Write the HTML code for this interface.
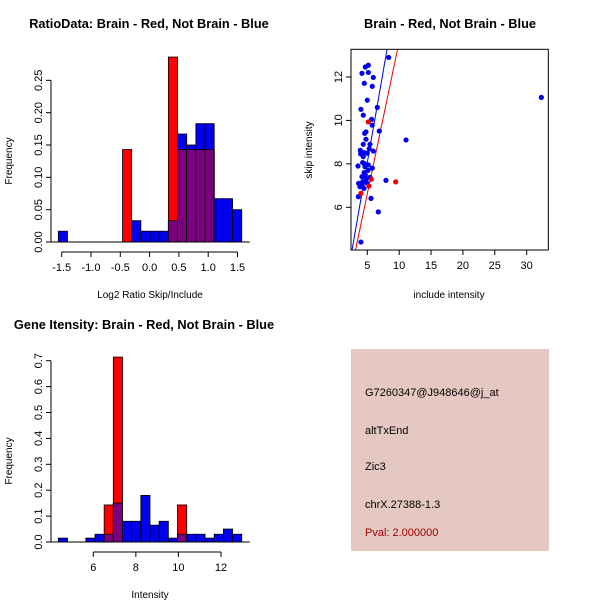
<!DOCTYPE html>
<html><head><meta charset="utf-8"><style>
body{margin:0;background:#fff}
svg{display:block;font-family:"Liberation Sans",Arial,sans-serif}
</style></head><body>
<svg id="c" width="600" height="600" viewBox="0 0 600 600">
<rect width="600" height="600" fill="#fff"/>
<g id="p1"></g>
<g id="p2"></g>
<g id="p3"></g>
<g id="p4">
<rect x="351" y="349" width="198" height="202" fill="#e6c8c2"/>
<text x="365" y="396" font-size="11" fill="#000">G7260347@J948646@j_at</text>
<text x="365" y="434" font-size="11" fill="#000">altTxEnd</text>
<text x="365" y="470" font-size="11" fill="#000">Zic3</text>
<text x="365" y="508" font-size="11" fill="#000">chrX.27388-1.3</text>
<text x="365" y="536" font-size="11" fill="#a00000">Pval: 2.000000</text>
</g>
</svg>
<script>
// ---- data ----
const ratioBinStart = -1.558, ratioBinWidth = 0.1565;
const ratioBlue = [0.0167,0,0,0,0,0,0,0,0.033,0.0167,0.0167,0.0167,0.033,0.167,0.15,0.183,0.183,0.067,0.067,0.05];
const ratioRed  = [0,0,0,0,0,0,0,0.143,0,0,0,0,0.286,0.143,0.143,0.143,0.143,0,0,0];
const ratioXTicks = [-1.5,-1.0,-0.5,0.0,0.5,1.0,1.5];
const ratioXLabels = ["-1.5","-1.0","-0.5","0.0","0.5","1.0","1.5"];
const ratioYTicks = [0,0.05,0.10,0.15,0.20,0.25];
const ratioYLabels = ["0.00","0.05","0.10","0.15","0.20","0.25"];

const scatterBlueX = [8.35,5.16,4.69,5.16,4.16,5.94,4.53,5.78,5.0,6.57,4.0,4.37,5.68,5.78,6.88,4.58,4.79,11.07,4.79,4.37,5.42,5.0,3.9,3.95,4.53,5.94,4.37,4.27,3.54,4.63,5.78,5.16,7.93,4.16,4.69,5.42,3.64,4.27,4.9,3.85,4.48,3.59,5.58,6.73,4.0,32.3,4.5,5.1,4.8,4.2,5.3,4.6];
const scatterBlueY = [12.9,12.54,12.46,12.21,12.17,11.98,11.71,11.57,10.93,10.6,10.51,10.24,10.05,9.78,9.51,9.41,9.47,9.10,9.13,8.9,8.9,8.49,8.62,8.46,8.52,8.59,8.33,8.06,7.9,7.87,7.8,7.95,7.24,7.41,7.49,7.38,7.1,7.18,7.13,6.95,6.87,6.49,6.41,5.79,4.4,11.06,7.6,7.7,7.3,7.0,8.7,8.0];
const scatterRedX = [5.16,9.45,5.63,5.26,4.0];
const scatterRedY = [9.93,7.17,7.29,6.98,6.64];
const blueLine = [[2.6,4.03],[8.1,13.28]];
const redLine = [[3.15,4.03],[9.75,13.28]];
const scatXTicks = [5,10,15,20,25,30];
const scatYTicks = [6,8,10,12];

const geneBinStart = 4.355, geneBinWidth = 0.431;
const geneBlue = [0.015,0,0,0.015,0.03,0.03,0.15,0.08,0.08,0.18,0.065,0.08,0.015,0.03,0.03,0.03,0.015,0.03,0.05,0.03];
const geneRed  = [0,0,0,0,0,0.143,0.714,0,0,0,0,0,0,0.143,0,0,0,0,0,0];
const geneXTicks = [6,8,10,12];
const geneYTicks = [0,0.1,0.2,0.3,0.4,0.5,0.6,0.7];
const geneYLabels = ["0.0","0.1","0.2","0.3","0.4","0.5","0.6","0.7"];

const NS="http://www.w3.org/2000/svg";
function mk(parent,tag,attrs,text){const e=document.createElementNS(NS,tag);for(const k in attrs)e.setAttribute(k,attrs[k]);if(text!==undefined)e.textContent=text;parent.appendChild(e);return e;}
function txt(g,x,y,s,opt){opt=opt||{};const a={x:x,y:y,"font-size":opt.size||11,"text-anchor":opt.anchor||"middle",fill:"#000"};if(opt.bold)a["font-weight"]="bold";if(opt.rot)a.transform="rotate(-90 "+x+" "+y+")";return mk(g,"text",a,s);}

function hist(g,binStart,bw,blue,red,sx,sy,name){
  const n=blue.length;
  for(let i=0;i<n;i++){
    const x0=sx(binStart+i*bw),x1=sx(binStart+(i+1)*bw);
    const b=blue[i],r=red[i],m=Math.min(b,r);
    if(b>0){const e=mk(g,"rect",{x:x0,y:sy(b),width:x1-x0,height:sy(0)-sy(b),fill:"#0000ee",stroke:"#000","stroke-width":0.8});
      
      }
    if(r>0){const e=mk(g,"rect",{x:x0,y:sy(r),width:x1-x0,height:sy(0)-sy(r),fill:"#ff0000",stroke:"#000","stroke-width":0.8});
      
      }
    if(m>0){const e=mk(g,"rect",{x:x0,y:sy(m),width:x1-x0,height:sy(0)-sy(m),fill:"#7a0080",stroke:"#000","stroke-width":0.8});
      
      }
  }
  mk(g,"line",{x1:sx(binStart)-10,x2:sx(binStart+n*bw)+8,y1:sy(0),y2:sy(0),stroke:"#000"});
}
function yaxis(g,ticks,labels,sy,x){
  mk(g,"line",{x1:x,x2:x,y1:sy(ticks[0]),y2:sy(ticks[ticks.length-1]),stroke:"#000"});
  ticks.forEach((t,i)=>{mk(g,"line",{x1:x-5,x2:x,y1:sy(t),y2:sy(t),stroke:"#000"});
    const e=txt(g,x-9,sy(t),labels[i],{rot:true});
    
    });
}
function xaxis(g,ticks,labels,sx,y){
  mk(g,"line",{x1:sx(ticks[0]),x2:sx(ticks[ticks.length-1]),y1:y,y2:y,stroke:"#000"});
  ticks.forEach((t,i)=>{mk(g,"line",{x1:sx(t),x2:sx(t),y1:y,y2:y+5,stroke:"#000"});
    const e=txt(g,sx(t),y+19,labels[i]);
    
    });
}

// Plot 1
(function(){
  const g=document.getElementById("p1");
  const sx=v=>61.7+(v+1.5)*58.6, sy=v=>242-v*646.7;
  hist(g,ratioBinStart,ratioBinWidth,ratioBlue,ratioRed,sx,sy,'ratio');
  yaxis(g,ratioYTicks,ratioYLabels,sy,51);
  xaxis(g,ratioXTicks,ratioXLabels,sx,252);
  let e=txt(g,149,28,"RatioData: Brain - Red, Not Brain - Blue",{bold:true,size:12.8});
  
  e=txt(g,150,298,"Log2 Ratio Skip/Include",{size:10});
  
  e=txt(g,12,161,"Frequency",{size:10,rot:true});
  
})();

// Plot 2
(function(){
  const g=document.getElementById("p2");
  const sx=v=>367.3+(v-5)*6.375, sy=v=>207.3-(v-6)*21.72;
  const clip=mk(g,"clipPath",{id:"clip2"});mk(clip,"rect",{x:351,y:49.3,width:197.3,height:200.7});
  const inner=mk(g,"g",{"clip-path":"url(#clip2)"});
  let e=mk(inner,"line",{x1:sx(blueLine[0][0]),y1:sy(blueLine[0][1]),x2:sx(blueLine[1][0]),y2:sy(blueLine[1][1]),stroke:"#0000ee","stroke-width":1});
  
  e=mk(inner,"line",{x1:sx(redLine[0][0]),y1:sy(redLine[0][1]),x2:sx(redLine[1][0]),y2:sy(redLine[1][1]),stroke:"#ee0000","stroke-width":1});
  
  scatterBlueX.forEach((x,i)=>{const p=mk(inner,"circle",{cx:sx(x),cy:sy(scatterBlueY[i]),r:2.6,fill:"#0000ee"});
    
    });
  scatterRedX.forEach((x,i)=>{const p=mk(inner,"circle",{cx:sx(x),cy:sy(scatterRedY[i]),r:2.6,fill:"#ee0000"});
    
    });
  mk(g,"rect",{x:351,y:49.3,width:197.3,height:200.7,fill:"none",stroke:"#000"});
  xaxis(g,scatXTicks,scatXTicks.map(String),sx,250);
  scatYTicks.forEach(t=>{mk(g,"line",{x1:346,x2:351,y1:sy(t),y2:sy(t),stroke:"#000"});
    const l=txt(g,342,sy(t),String(t),{rot:true});
    });
  e=txt(g,450,28,"Brain - Red, Not Brain - Blue",{bold:true,size:12.8});
  
  e=txt(g,449,298,"include intensity",{size:10});
  
  e=txt(g,312,150,"skip intensity",{size:10,rot:true});
  
})();

// Plot 3
(function(){
  const g=document.getElementById("p3");
  const sx=v=>93.3+(v-6)*21.28, sy=v=>542-v*259;
  hist(g,geneBinStart,geneBinWidth,geneBlue,geneRed,sx,sy,'gene');
  yaxis(g,geneYTicks,geneYLabels,sy,51);
  xaxis(g,geneXTicks,geneXTicks.map(String),sx,552);
  let e=txt(g,144,329,"Gene Itensity: Brain - Red, Not Brain - Blue",{bold:true,size:12.8});
  
  e=txt(g,150,598,"Intensity",{size:10});
  
  e=txt(g,12,461,"Frequency",{size:10,rot:true});
  
})();
</script>
</body></html>
